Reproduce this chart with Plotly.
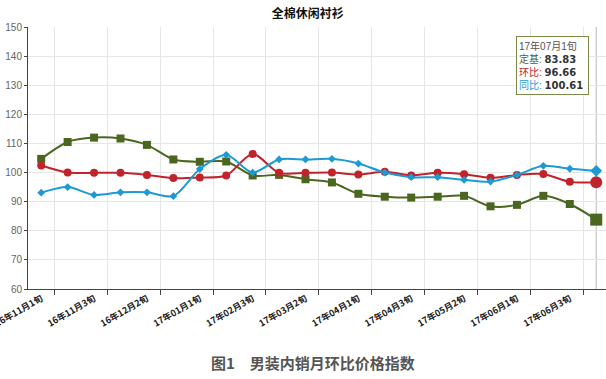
import plotly.graph_objects as go

categories = [
    "16年11月1旬", "16年11月2旬", "16年11月3旬", "16年12月1旬", "16年12月2旬", "16年12月3旬",
    "17年01月1旬", "17年01月2旬", "17年02月3旬", "17年03月1旬", "17年03月2旬", "17年03月3旬",
    "17年04月1旬", "17年04月2旬", "17年04月3旬", "17年05月1旬", "17年05月2旬", "17年05月3旬",
    "17年06月1旬", "17年06月2旬", "17年06月3旬", "17年07月1旬",
]
dingji = [104.7, 110.5, 112.0, 111.7, 109.5, 104.5, 103.7, 103.8, 99.0, 99.2, 97.7, 96.6,
          92.7, 91.7, 91.4, 91.7, 92.0, 88.4, 88.9, 92.0, 89.2, 83.83]
huanbi = [102.4, 100.0, 99.9, 99.9, 99.2, 98.1, 98.3, 99.0, 106.4, 99.9, 99.9, 100.0,
          99.3, 100.3, 99.0, 99.9, 99.4, 98.2, 99.2, 99.5, 96.8, 96.66]
tongbi = [93.1, 95.0, 92.3, 93.2, 93.2, 91.9, 101.2, 106.1, 100.0, 104.5, 104.5, 104.7,
          103.1, 100.0, 98.4, 98.4, 97.5, 96.9, 99.2, 102.3, 101.3, 100.61]
series_names = ["定基", "环比", "同比"]
colors = ["#4b661f", "#c1232b", "#1b9ad6"]

title_text = "全棉休闲衬衫"
footer_text = "图1　男装内销月环比价格指数"

n = len(categories)
xs = list(range(n))
last = n - 1

fig = go.Figure()

def sizes(base, big):
    return [big if i == last else base for i in range(n)]

specs = [
    (dingji, "square", 8, 12),
    (huanbi, "circle", 8, 12),
    (tongbi, "diamond", 6, 9),
]
for (vals, sym, s, b), name, col in zip(specs, series_names, colors):
    fig.add_trace(go.Scatter(
        x=xs, y=vals, name=name, mode="lines+markers",
        line=dict(color=col, width=2, shape="spline", smoothing=0.8),
        marker=dict(symbol=sym, size=sizes(s, b), color=col, opacity=1,
                    line=dict(width=0)),
        hoverinfo="skip", cliponaxis=False,
    ))

# invisible trace on the secondary x axis used for boundary grid lines
fig.add_trace(go.Scatter(x=[-0.5], y=[60], xaxis="x2", mode="markers",
                         marker=dict(opacity=0), hoverinfo="skip", showlegend=False))

label_idx = list(range(0, n - 1, 2))
boundary = [i + 0.5 for i in range(0, n - 1, 2)]
xr = [-0.5, 21.37]

fig.update_layout(
    width=606, height=379,
    margin=dict(l=28, r=0, t=27, b=90),
    paper_bgcolor="white", plot_bgcolor="white",
    showlegend=False,
    font=dict(family="Liberation Sans, Noto Sans CJK SC, sans-serif", color="#333"),
    title=dict(text="<b>" + title_text + "</b>", x=0.508, xref="container", xanchor="center",
               y=1 - 14 / 379, yref="container", yanchor="middle",
               font=dict(size=12, color="#111", family="Noto Sans CJK SC")),
    xaxis=dict(range=xr, tickmode="array", tickvals=label_idx,
               ticktext=[categories[i] for i in label_idx], tickangle=-30,
               showgrid=False, zeroline=False, ticks="", showline=True,
               linecolor="#444", linewidth=1, automargin=False,
               ticklabeloverflow="allow",
               tickfont=dict(size=9, color="#222", family="Noto Sans CJK SC", weight="bold")),
    xaxis2=dict(range=xr, overlaying="x", anchor="y", side="bottom",
                tickmode="array", tickvals=boundary, showticklabels=False,
                showgrid=True, gridcolor="#e6e6e6", gridwidth=1, zeroline=False,
                ticks="outside", ticklen=5, tickcolor="#444", showline=False,
                automargin=False),
    yaxis=dict(range=[60, 150], dtick=10, showgrid=True, gridcolor="#e6e6e6",
               zeroline=False, showline=True, linecolor="#444", linewidth=1,
               ticks="outside", ticklen=3, tickcolor="#444", automargin=False,
               tickfont=dict(size=10, color="#666")),
)

# axis pointer at the highlighted (last) category
fig.add_shape(type="line", x0=last, x1=last, y0=0, y1=1, xref="x", yref="paper",
              line=dict(color="#bbbbbb", width=1), layer="below")

vfont = "font-family:DejaVu Sans;font-weight:bold;color:#333"
tip = (f"<span style='color:#555'>{categories[last]}</span><br>"
       f"<span style='color:{colors[0]}'>{series_names[0]}:</span> <span style='{vfont}'>{dingji[last]:.2f}</span><br>"
       f"<span style='color:{colors[1]}'>{series_names[1]}:</span> <span style='{vfont}'>{huanbi[last]:.2f}</span><br>"
       f"<span style='color:{colors[2]}'>{series_names[2]}:</span> <span style='{vfont}'>{tongbi[last]:.2f}</span>")
fig.add_annotation(text=tip, xref="paper", yref="paper", x=0.844, y=0.967,
                   xanchor="left", yanchor="top", align="left", valign="middle",
                   showarrow=False, width=67, height=53,
                   bgcolor="white", bordercolor="#7a8a4a", borderwidth=1, borderpad=2,
                   font=dict(size=10, color="#333", family="Liberation Sans, Noto Sans CJK SC"))

fig.add_annotation(text="<b>" + footer_text + "</b>", xref="paper", yref="paper",
                   x=0.493, y=-0.279, xanchor="center", yanchor="middle", showarrow=False,
                   font=dict(size=15, color="#555", family="Noto Sans CJK SC"))

fig.write_html("out.html", config={"displayModeBar": False},
               post_script="document.body.style.margin='0';")
